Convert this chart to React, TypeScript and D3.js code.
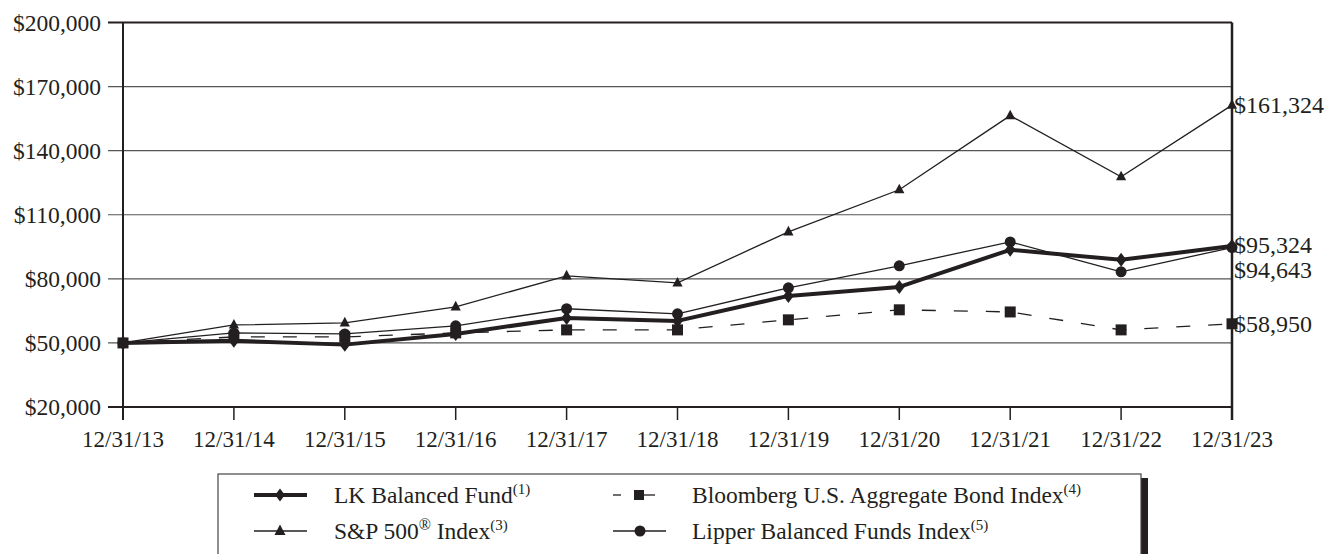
import React from "react";
import * as d3 from "d3";

const dates = ["12/31/13","12/31/14","12/31/15","12/31/16","12/31/17","12/31/18","12/31/19","12/31/20","12/31/21","12/31/22","12/31/23"];
const lkFund = [50000, 51000, 49200, 54200, 61700, 60300, 72000, 76200, 93600, 88900, 95324];
const sp500 = [50000, 58400, 59400, 66900, 81400, 78100, 102000, 121700, 156400, 127800, 161324];
const bloomberg = [50000, 52800, 52800, 54700, 56100, 56100, 60800, 65500, 64500, 56100, 58950];
const lipper = [50000, 54700, 54200, 58000, 66000, 63600, 75800, 86100, 97300, 83300, 94643];
const yTicks = [20000, 50000, 80000, 110000, 140000, 170000, 200000];

const W = 1332, H = 554;
const L = 123, R = 1232, T = 22.5, B = 407;
const FONT = "'Liberation Serif', 'Times New Roman', serif";
const C = "#231f20";

export default function App() {
  const x = d3.scalePoint<string>().domain(dates).range([L, R]);
  const y = d3.scaleLinear().domain([20000, 200000]).range([B, T]);
  const line = d3.line<number>().x((_, i) => x(dates[i])!).y(d => y(d));
  const fmt = (v: number) => "$" + d3.format(",")(v);

  const diamond = (cx: number, cy: number, s = 7) =>
    `M${cx},${cy - s}L${cx + s * 0.75},${cy}L${cx},${cy + s}L${cx - s * 0.75},${cy}Z`;
  const tri = (cx: number, cy: number, s = 6) =>
    `M${cx},${cy - s}L${cx + s * 0.85},${cy + s * 0.6}L${cx - s * 0.85},${cy + s * 0.6}Z`;

  const endLabels = [
    { v: sp500[10], dy: 8, label: fmt(sp500[10]) },
    { v: lkFund[10], dy: 7, label: fmt(lkFund[10]) },
    { v: lipper[10], dy: 30, label: fmt(lipper[10]) },
    { v: bloomberg[10], dy: 8, label: fmt(bloomberg[10]) },
  ];

  return (
    <svg width={W} height={H} style={{ position: "absolute", left: 0, top: 0, background: "#fff" }} fontFamily={FONT}>
      <rect x={0} y={0} width={W} height={H} fill="#fff" />
      {/* gridlines */}
      {yTicks.map(t => (
        <g key={t}>
          <line x1={L - 15} x2={R} y1={y(t)} y2={y(t)} stroke={t === 20000 || t === 200000 ? C : "#555"} strokeWidth={t === 20000 || t === 200000 ? 2 : 1.2} />
          <text x={L - 22} y={y(t) + 8} textAnchor="end" fontSize={23.5} fill={C}>{fmt(t)}</text>
        </g>
      ))}
      {/* axes */}
      <line x1={L} x2={L} y1={T} y2={B + 13} stroke={C} strokeWidth={2} />
      <line x1={R} x2={R} y1={T} y2={B + 13} stroke={C} strokeWidth={2.5} />
      {dates.map(d => (
        <g key={d}>
          <line x1={x(d)} x2={x(d)} y1={B} y2={B + 13} stroke={C} strokeWidth={1.5} />
          <text x={x(d)} y={B + 40} textAnchor="middle" fontSize={23} fill={C}>{d}</text>
        </g>
      ))}
      {/* Bloomberg dashed */}
      <path d={line(bloomberg)!} fill="none" stroke={C} strokeWidth={1.3} strokeDasharray="14,18" />
      {bloomberg.map((v, i) => (
        <rect key={i} x={x(dates[i])! - 5.5} y={y(v) - 5.5} width={11} height={11} fill={C} />
      ))}
      {/* S&P */}
      <path d={line(sp500)!} fill="none" stroke={C} strokeWidth={1.3} />
      {sp500.map((v, i) => (
        <path key={i} d={tri(x(dates[i])!, y(v))} fill={C} />
      ))}
      {/* Lipper */}
      <path d={line(lipper)!} fill="none" stroke={C} strokeWidth={1.3} />
      {lipper.map((v, i) => (
        <circle key={i} cx={x(dates[i])!} cy={y(v)} r={5.5} fill={C} />
      ))}
      {/* LK fund */}
      <path d={line(lkFund)!} fill="none" stroke={C} strokeWidth={4} strokeLinejoin="round" />
      {lkFund.map((v, i) => (
        <path key={i} d={diamond(x(dates[i])!, y(v))} fill={C} />
      ))}
      {/* end labels */}
      {endLabels.map((e, i) => (
        <text key={i} x={R + 2} y={y(e.v) + e.dy} fontSize={24} fill={C}>{e.label}</text>
      ))}
      {/* legend */}
      <rect x={1141} y={478} width={7} height={H - 478} fill={C} />
      <rect x={218} y={474} width={923} height={H} fill="#fff" stroke="#444" strokeWidth={1.2} />
      <g fontSize={23.5} fill={C}>
        <line x1={254} x2={307} y1={495} y2={495} stroke={C} strokeWidth={4} />
        <path d={diamond(280, 495, 6.5)} fill={C} />
        <text x={334} y={503}>LK Balanced Fund<tspan fontSize={15} dy={-9}>(1)</tspan></text>

        <line x1={254} x2={307} y1={531} y2={531} stroke={C} strokeWidth={1.3} />
        <path d={tri(280, 531, 6.5)} fill={C} />
        <text x={334} y={539}>S&amp;P 500<tspan fontSize={16} dy={-9}>®</tspan><tspan dy={9}> Index</tspan><tspan fontSize={15} dy={-9}>(3)</tspan></text>

        <line x1={613} x2={621} y1={495} y2={495} stroke={C} strokeWidth={1.3} />
        <line x1={640} x2={655} y1={495} y2={495} stroke={C} strokeWidth={1.3} />
        <rect x={634} y={490} width={10} height={10} fill={C} />
        <text x={692} y={503}>Bloomberg U.S. Aggregate Bond Index<tspan fontSize={15} dy={-9}>(4)</tspan></text>

        <line x1={613} x2={666} y1={531} y2={531} stroke={C} strokeWidth={1.3} />
        <circle cx={640} cy={531} r={5.5} fill={C} />
        <text x={692} y={539}>Lipper Balanced Funds Index<tspan fontSize={15} dy={-9}>(5)</tspan></text>
      </g>
    </svg>
  );
}
